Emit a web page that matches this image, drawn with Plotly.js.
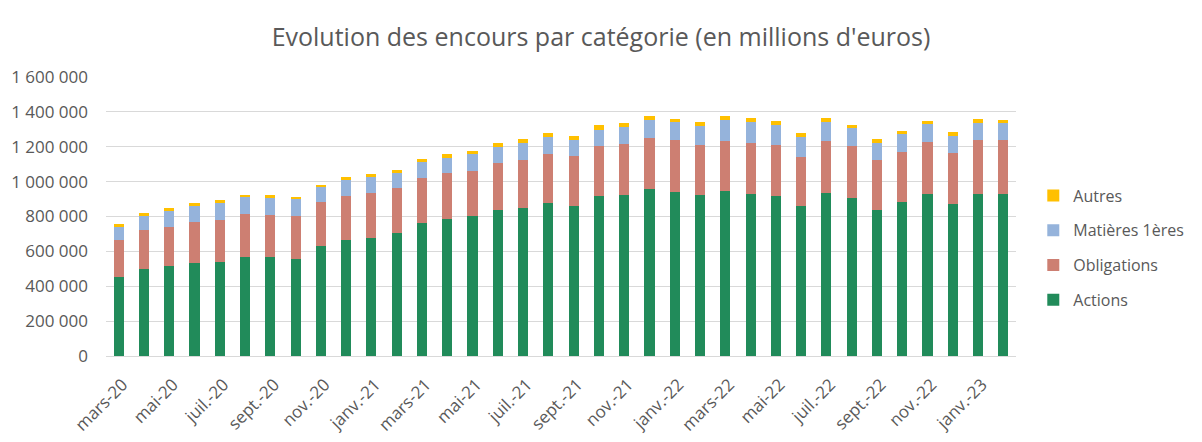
<!DOCTYPE html>
<html>
<head>
<meta charset="utf-8">
<script src="https://cdn.plot.ly/plotly-3.0.1.min.js"></script>
<style>html,body{margin:0;padding:0;background:#fff;}#chart{width:1202px;height:442px;}</style>
</head>
<body>
<div id="chart"></div>
<script>
const months = ["mars-20","avr.-20","mai-20","juin-20","juil.-20","août-20","sept.-20","oct.-20","nov.-20","déc.-20",
  "janv.-21","févr.-21","mars-21","avr.-21","mai-21","juin-21","juil.-21","août-21","sept.-21","oct.-21","nov.-21","déc.-21",
  "janv.-22","févr.-22","mars-22","avr.-22","mai-22","juin-22","juil.-22","août-22","sept.-22","oct.-22","nov.-22","déc.-22",
  "janv.-23","févr.-23"];
const actions = [452000,498000,515000,533000,538000,567000,567000,556000,630000,664000,676000,705000,762000,785000,802000,836000,848000,876000,859000,916000,922000,957000,939000,922000,945000,928000,916000,859000,934000,905000,836000,882000,928000,871000,928000,928000];
const obligations = [212000,224000,224000,235000,241000,246000,241000,246000,252000,252000,258000,257000,258000,263000,258000,270000,275000,281000,287000,287000,292000,292000,298000,287000,287000,292000,293000,281000,298000,298000,287000,287000,298000,292000,309000,309000];
const matieres = [75000,82000,91000,93000,97000,98000,99000,97000,86000,92000,91000,86000,91000,88000,99000,91000,97000,97000,93000,93000,98000,105000,105000,110000,122000,122000,114000,114000,110000,105000,97000,105000,105000,99000,98000,98000];
const autres = [17000,15000,18000,15000,18000,11000,15000,14000,11000,17000,17000,17000,17000,21000,15000,23000,23000,23000,21000,27000,23000,21000,16000,21000,21000,21000,23000,23000,21000,15000,23000,15000,15000,23000,23000,17000];
const yTicks = [0,200000,400000,600000,800000,1000000,1200000,1400000,1600000];
const yTickText = ["0","200 000","400 000","600 000","800 000","1 000 000","1 200 000","1 400 000","1 600 000"];
const xTickVals = months.filter((m,i)=>i%2===0);

const FONT = "'Open Sans', sans-serif";
const TXT = "#595959";
function tr(name, y, color, rank){
  return {type:"bar", name:name, x:months, y:y, marker:{color:color}, legendgroup:name, legendrank:rank, hoverinfo:"y+name"};
}
const data = [
  tr("Actions", actions, "#218B5A", 4),
  tr("Obligations", obligations, "#CD7F72", 3),
  tr("Matières 1ères", matieres, "#95B3DB", 2),
  tr("Autres", autres, "#FFC000", 1)
];
const layout = {
  width:1202, height:442,
  paper_bgcolor:"#fff", plot_bgcolor:"#fff",
  margin:{l:106, r:186, t:77, b:86},
  barmode:"stack", bargap:0.6,
  font:{family:FONT, color:TXT, size:17},
  title:{text:"Evolution des encours par catégorie (en millions d'euros)", font:{family:FONT, size:25, color:TXT},
    x:0.5, xref:"container", xanchor:"center", y:0.916, yref:"container", yanchor:"middle"},
  xaxis:{type:"category", tickvals:xTickVals, ticktext:xTickVals, tickangle:-45, showgrid:false,
    showline:true, linecolor:"#d9d9d9", linewidth:1, ticks:"", ticklabelstandoff:11, ticklabelshift:4, tickfont:{size:17, color:TXT}},
  yaxis:{range:[0,1600000], tickvals:yTicks, ticktext:yTickText, showgrid:true, gridcolor:"#d9d9d9", gridwidth:1,
    zeroline:false, showline:false, ticks:"", ticklabelstandoff:17, tickfont:{size:17, color:TXT}},
  legend:{x:1.019, xanchor:"left", y:0.387, yanchor:"middle", traceorder:"grouped", tracegroupgap:11,
    font:{size:16, color:TXT}, itemwidth:30},
  showlegend:true
};
Plotly.newPlot("chart", data, layout, {displayModeBar:false, staticPlot:true});
</script>
</body>
</html>
